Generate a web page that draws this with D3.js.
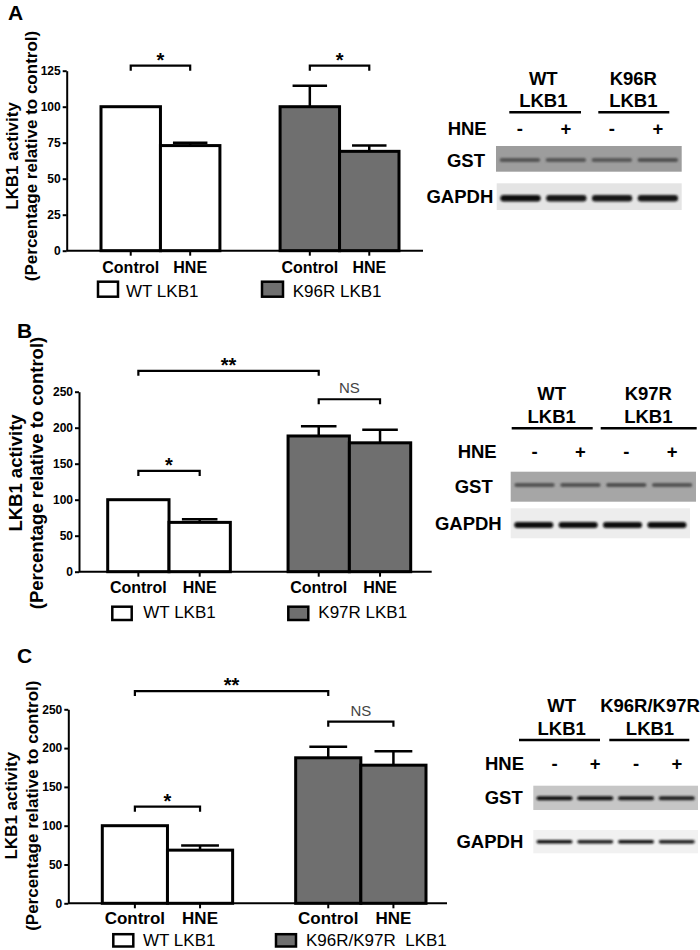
<!DOCTYPE html>
<html><head><meta charset="utf-8">
<script src="https://cdn.jsdelivr.net/npm/d3@7"></script>
<style>
html,body{margin:0;padding:0;background:#fff;}
svg{display:block;font-family:"Liberation Sans",Arial,Helvetica,sans-serif;}
</style></head>
<body>
<svg id="chart" width="700" height="950"></svg>
<script>
// ---------------- DATA ----------------
const conditions = ["Control", "HNE"];
const yTitle1 = "LKB1 activity";
const yTitle2 = "(Percentage relative to control)";

const groupsA = ["WT LKB1", "K96R LKB1"];
const meansA = [100, 73, 100, 69];
const semA = [0, 2, 14.5, 4];
const ticksA = [0, 25, 50, 75, 100, 125];
const sigA = [
  {from: 0, to: 1, label: "*", level: 128.5},
  {from: 2, to: 3, label: "*", level: 128.5}
];

const groupsB = ["WT LKB1", "K97R LKB1"];
const meansB = [100, 68.5, 188.5, 179];
const semB = [0, 4.5, 13.5, 18];
const ticksB = [0, 50, 100, 150, 200, 250];
const sigB = [
  {from: 0, to: 2, label: "**", level: 279},
  {from: 2, to: 3, label: "NS", level: 239.5},
  {from: 0, to: 1, label: "*", level: 140}
];

const groupsC = ["WT LKB1", "K96R/K97R  LKB1"];
const meansC = [100, 68.5, 187.5, 178];
const semC = [0, 6, 14.2, 18];
const ticksC = [0, 50, 100, 150, 200, 250];
const sigC = [
  {from: 0, to: 2, label: "**", level: 273.5},
  {from: 2, to: 3, label: "NS", level: 234},
  {from: 0, to: 1, label: "*", level: 124.5}
];

// western blot annotations
const hneLanes = ["-", "+", "-", "+"];
const blotRows = ["GST", "GAPDH"];
const blotHeadA = [["WT", "LKB1"], ["K96R", "LKB1"]];
const blotHeadB = [["WT", "LKB1"], ["K97R", "LKB1"]];
const blotHeadC = [["WT", "LKB1"], ["K96R/K97R", "LKB1"]];
// relative band intensities (0..1) per lane, GST then GAPDH
const gstBandsA = [0.75, 0.72, 0.7, 0.78];
const gapdhBandsA = [1, 0.95, 0.95, 0.95];
const gstBandsB = [0.75, 0.78, 0.8, 0.75];
const gapdhBandsB = [1, 1, 1, 1];
const gstBandsC = [1, 1, 0.95, 0.9];
const gapdhBandsC = [1, 0.95, 1, 0.95];

// ---------------- LAYOUT ----------------
const FONT = '"Liberation Sans",Arial,Helvetica,sans-serif';
const BARGRAY = "#6f6f6f";
const svg = d3.select("#chart");

const defs = svg.append("defs");
defs.append("filter").attr("id", "soft").attr("x", "-10%").attr("y", "-100%").attr("width", "120%").attr("height", "300%")
  .append("feGaussianBlur").attr("stdDeviation", 0.8);

const panels = [
  {letter: "A", lx: 8, ly: 20, groups: groupsA, means: meansA, sem: semA, ticks: ticksA, sig: sigA,
   yTop: 70.7, yBottom: 250.7, axisX: 66.7, axisEnd: 423, barRange: [101, 399], pi: 0.336,
   tcy: 156, tx1: 18, tx2: 37, tsize: 17, xlabY: 273.3, xlabSize: 16,
   leg: {y: 281.7, h: 15, base: 296.5, items: [{x: 98, w: 20, tx: 126}, {x: 262, w: 21, tx: 292.7}]},
   blot: {head: blotHeadA, headX: [543.3, 633.3], headY: [85, 107.3], ul: [[509.3, 581], [598.3, 669.3]], ulY: 112.3,
          hneX: 486.7, hneY: 135, signsY: 135,
          gst: {x0: 496, x1: 681.7, y0: 146, y1: 171.7, fill: "#9d9d9d", bandY: 160, bandH: 4, color: "#3c3c3c", bands: gstBandsA, labX: 485, labY: 166.7},
          gapdh: {x0: 496.7, x1: 681.7, y0: 183.3, y1: 210, fill: "#e4e4e4", bandY: 198.3, bandH: 6.5, color: "#0a0a0a", bands: gapdhBandsA, labX: 493.3, labY: 203.3}}},
  {letter: "B", lx: 17, ly: 338, groups: groupsB, means: meansB, sem: semB, ticks: ticksB, sig: sigB,
   yTop: 391.7, yBottom: 571.7, axisX: 79, axisEnd: 431.7, barRange: [107.7, 410.7], pi: 0.32,
   tcy: 473, tx1: 22, tx2: 43, tsize: 18.5, xlabY: 593.3, xlabSize: 16,
   leg: {y: 606.7, h: 13.3, base: 618.3, items: [{x: 112.3, w: 19.4, tx: 143.3}, {x: 288.3, w: 20, tx: 318.3}]},
   blot: {head: blotHeadB, headX: [551.7, 648.3], headY: [400, 423.3], ul: [[511.7, 592.7], [600.7, 696.7]], ulY: 428.3,
          hneX: 496.7, hneY: 458.3, signsY: 458.3,
          gst: {x0: 510.7, x1: 696, y0: 471.7, y1: 501.7, fill: "#a6a6a6", bandY: 485, bandH: 4, color: "#3a3a3a", bands: gstBandsB, labX: 492.7, labY: 492.7},
          gapdh: {x0: 510.7, x1: 690, y0: 508.3, y1: 538.3, fill: "#ededed", bandY: 525, bandH: 6, color: "#0a0a0a", bands: gapdhBandsB, labX: 501.7, labY: 530}}},
  {letter: "C", lx: 17, ly: 663, groups: groupsC, means: meansC, sem: semC, ticks: ticksC, sig: sigC,
   yTop: 709.3, yBottom: 903.3, axisX: 68.3, axisEnd: 447, barRange: [102.3, 426], pi: 0.326,
   tcy: 805.7, tx1: 17, tx2: 38, tsize: 17, xlabY: 924, xlabSize: 17,
   leg: {y: 934.2, h: 12.3, base: 946.3, items: [{x: 113.3, w: 20, tx: 143}, {x: 276, w: 20, tx: 306}]},
   blot: {head: blotHeadC, headX: [561.7, 650], headY: [711.7, 735], ul: [[519, 600], [609.3, 689.3]], ulY: 740,
          hneX: 524, hneY: 770, signsY: 770,
          gst: {x0: 533.3, x1: 698, y0: 785.7, y1: 810, fill: "#c6c6c6", bandY: 798.3, bandH: 4, color: "#101010", bands: gstBandsC, labX: 522.7, labY: 804},
          gapdh: {x0: 533.3, x1: 698, y0: 830, y1: 853.3, fill: "#f1f1f1", bandY: 841.7, bandH: 3.5, color: "#101010", bands: gapdhBandsC, labX: 523.3, labY: 848.3}}}
];

panels.forEach(p => {
  const g = svg.append("g");
  // panel letter
  g.append("text").attr("x", p.lx).attr("y", p.ly).attr("font-size", 21).attr("font-weight", "bold").text(p.letter);

  const y = d3.scaleLinear().domain([0, p.ticks[p.ticks.length - 1]]).range([p.yBottom, p.yTop]);
  const gx = d3.scaleBand().domain(p.groups).range(p.barRange).paddingInner(p.pi).paddingOuter(0);
  const cx = d3.scaleBand().domain(conditions).range([0, gx.bandwidth()]).padding(0);
  const bw = cx.bandwidth();

  const bars = [];
  p.groups.forEach((grp, gi) => conditions.forEach((c, ci) => {
    const i = gi * 2 + ci;
    bars.push({grp, c, gi, mean: p.means[i], sem: p.sem[i], x: gx(grp) + cx(c)});
  }));
  const center = i => bars[i].x + bw / 2;

  // y axis
  const yAxis = d3.axisLeft(y).tickValues(p.ticks).tickSize(4).tickPadding(2).tickSizeOuter(0);
  const ya = g.append("g").attr("transform", `translate(${p.axisX},0)`).call(yAxis);
  ya.select(".domain").attr("stroke", "#000").attr("stroke-width", 2);
  ya.selectAll(".tick line").attr("stroke", "#000").attr("stroke-width", 2);
  ya.selectAll(".tick text").attr("font-size", 12).attr("font-weight", "bold").attr("font-family", FONT).attr("fill", "#000");

  // bars
  g.selectAll(".bar").data(bars).join("rect")
    .attr("x", d => d.x).attr("y", d => y(d.mean))
    .attr("width", bw).attr("height", d => y(0) - y(d.mean))
    .attr("fill", d => d.gi === 0 ? "#fff" : BARGRAY)
    .attr("stroke", "#000").attr("stroke-width", 3);

  // error bars (upper)
  const eb = bars.filter(d => d.sem > 0);
  g.selectAll(".ev").data(eb).join("line")
    .attr("x1", d => d.x + bw / 2).attr("x2", d => d.x + bw / 2)
    .attr("y1", d => y(d.mean)).attr("y2", d => y(d.mean + d.sem))
    .attr("stroke", "#000").attr("stroke-width", 2.5);
  g.selectAll(".ec").data(eb).join("line")
    .attr("x1", d => d.x + bw / 2 - bw * 0.29).attr("x2", d => d.x + bw / 2 + bw * 0.29)
    .attr("y1", d => y(d.mean + d.sem)).attr("y2", d => y(d.mean + d.sem))
    .attr("stroke", "#000").attr("stroke-width", 2.5);

  // x axis line
  g.append("line").attr("x1", p.axisX).attr("x2", p.axisEnd).attr("y1", y(0)).attr("y2", y(0))
    .attr("stroke", "#000").attr("stroke-width", 2);
  g.selectAll(".xt").data(bars).join("line")
    .attr("x1", (d, i) => center(i)).attr("x2", (d, i) => center(i))
    .attr("y1", y(0)).attr("y2", y(0) + 5).attr("stroke", "#000").attr("stroke-width", 2);
  g.selectAll(".xl").data(bars).join("text")
    .attr("x", (d, i) => center(i)).attr("y", p.xlabY).attr("text-anchor", "middle")
    .attr("font-size", p.xlabSize).attr("font-weight", "bold").text(d => d.c);

  // y title
  const tt = g.append("g");
  tt.append("text").attr("transform", `translate(${p.tx1},${p.tcy}) rotate(-90)`).attr("text-anchor", "middle")
    .attr("font-size", p.tsize).attr("font-weight", "bold").text(yTitle1);
  tt.append("text").attr("transform", `translate(${p.tx2},${p.tcy}) rotate(-90)`).attr("text-anchor", "middle")
    .attr("font-size", p.tsize).attr("font-weight", "bold").text(yTitle2);

  // significance brackets
  p.sig.forEach(s => {
    const x1 = center(s.from), x2 = center(s.to), yy = y(s.level);
    g.append("path").attr("d", `M${x1},${yy + 5}V${yy}H${x2}V${yy + 5}`)
      .attr("fill", "none").attr("stroke", "#000").attr("stroke-width", 2.2);
    if (s.label === "NS") {
      g.append("text").attr("x", (x1 + x2) / 2).attr("y", yy - 6).attr("text-anchor", "middle")
        .attr("font-size", 15).attr("fill", "#444").text(s.label);
    } else {
      g.append("text").attr("x", (x1 + x2) / 2).attr("y", yy + 1).attr("text-anchor", "middle")
        .attr("font-size", 20).attr("font-weight", "bold").text(s.label);
    }
  });

  // legend
  p.leg.items.forEach((it, i) => {
    g.append("rect").attr("x", it.x).attr("y", p.leg.y).attr("width", it.w).attr("height", p.leg.h)
      .attr("fill", i === 0 ? "#fff" : BARGRAY).attr("stroke", "#000").attr("stroke-width", 2.5);
    g.append("text").attr("x", it.tx).attr("y", p.leg.base).attr("font-size", 17).attr("xml:space", "preserve")
      .style("white-space", "pre").text(p.groups[i]);
  });

  // ---------- western blot ----------
  const b = p.blot;
  b.head.forEach((lines, i) => {
    lines.forEach((t, j) => {
      g.append("text").attr("x", b.headX[i]).attr("y", b.headY[j]).attr("text-anchor", "middle")
        .attr("font-size", 18.5).attr("font-weight", "bold").text(t);
    });
    g.append("line").attr("x1", b.ul[i][0]).attr("x2", b.ul[i][1]).attr("y1", b.ulY).attr("y2", b.ulY)
      .attr("stroke", "#000").attr("stroke-width", 2.5);
  });
  g.append("text").attr("x", b.hneX).attr("y", b.hneY).attr("text-anchor", "end")
    .attr("font-size", 18.5).attr("font-weight", "bold").text("HNE");
  const lane = d3.scaleBand().domain(d3.range(hneLanes.length)).range([b.gst.x0, b.gst.x1]).paddingInner(0.16).paddingOuter(0.1);
  g.selectAll(".sg").data(hneLanes).join("text")
    .attr("x", (d, i) => lane(i) + lane.bandwidth() / 2).attr("y", b.signsY).attr("text-anchor", "middle")
    .attr("font-size", 18.5).attr("font-weight", "bold").text(d => d);

  [b.gst, b.gapdh].forEach((r, ri) => {
    g.append("rect").attr("x", r.x0).attr("y", r.y0).attr("width", r.x1 - r.x0).attr("height", r.y1 - r.y0)
      .attr("fill", r.fill);
    const ln = d3.scaleBand().domain(d3.range(r.bands.length)).range([r.x0, r.x1]).paddingInner(0.12).paddingOuter(0.08);
    const col = d3.interpolateRgb(r.fill, r.color);
    g.selectAll(null).data(r.bands).join("rect")
      .attr("x", (d, i) => ln(i)).attr("width", ln.bandwidth())
      .attr("y", r.bandY - r.bandH / 2).attr("height", r.bandH)
      .attr("rx", r.bandH / 2)
      .attr("fill", d => col(d)).attr("filter", "url(#soft)");
    g.append("text").attr("x", r.labX).attr("y", r.labY).attr("text-anchor", "end")
      .attr("font-size", 18.5).attr("font-weight", "bold").text(blotRows[ri]);
  });
});
</script>
</body></html>
